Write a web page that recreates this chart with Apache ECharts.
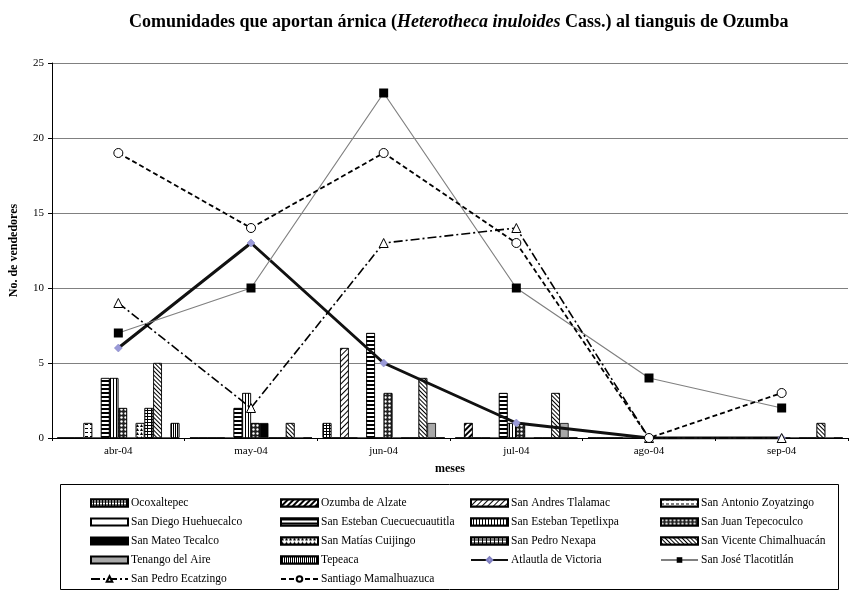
<!DOCTYPE html>
<html>
<head>
<meta charset="utf-8">
<script src="https://cdn.jsdelivr.net/npm/echarts@6/dist/echarts.min.js"></script>
<style>
  html, body { margin: 0; padding: 0; background: #fff; }
  #main { width: 855px; height: 593px; }
</style>
</head>
<body>
<div id="main"></div>
<script>
var myChart = echarts.init(document.getElementById('main'));

var months = ['abr-04', 'may-04', 'jun-04', 'jul-04', 'ago-04', 'sep-04'];
var yTicks = [0, 5, 10, 15, 20, 25];

// barras (No. de vendedores por mes)
var ocoxaltepec   = [0, 0, 1, 0, 0, 0];
var ozumba        = [0, 0, 0, 1, 0, 0];
var sanAndres     = [0, 0, 6, 0, 0, 0];
var sanAntonio    = [1, 0, 0, 0, 0, 0];
var sanDiego      = [0, 0, 0, 0, 0, 0];
var cuecue        = [4, 2, 7, 3, 0, 0];
var tepetlixpa    = [4, 3, 0, 1, 0, 0];
var sanJuan       = [2, 1, 3, 1, 0, 0];
var sanMateo      = [0, 1, 0, 0, 0, 0];
var sanMatias     = [1, 0, 0, 0, 0, 0];
var nexapa        = [2, 0, 0, 0, 0, 0];
var sanVicente    = [5, 1, 4, 3, 0, 1];
var tenango       = [0, 0, 1, 1, 0, 0];
var tepeaca       = [1, 0, 0, 0, 0, 0];

// lineas
var atlautla      = [6, 13, 5, 1, 0, 0];
var sanJose       = [7, 10, 23, 10, 4, 2];
var ecatzingo     = [9, 2, 13, 14, 0, 0];
var mamalhuazuca  = [19, 14, 19, 13, 0, 3];

var lineNames = ['Atlautla de Victoria', 'San José Tlacotitlán', 'San Pedro Ecatzingo', 'Santiago Mamalhuazuca'];

var serif = 'Liberation Serif';
var D45 = Math.PI / 4;

function bar(name, data, style) {
    return {
        name: name,
        type: 'bar',
        data: data,
        barGap: '0%',
        barCategoryGap: '8%',
        itemStyle: Object.assign({ color: '#fff', borderColor: '#000', borderWidth: 0.8 }, style)
    };
}
function stripes(gapY, rot, w) {
    return { symbol: 'rect', color: '#000', backgroundColor: '#fff', dashArrayX: [1, 0], dashArrayY: [w || 1, gapY], rotation: rot || 0 };
}

var series = [
    bar('Ocoxaltepec', ocoxaltepec, { decal: { symbol: 'rect', color: '#fff', backgroundColor: '#000', dashArrayX: [2, 1], dashArrayY: [2, 1] } }),
    bar('Ozumba de Alzate', ozumba, { decal: stripes(2, -D45, 2) }),
    bar('San Andres Tlalamac', sanAndres, { decal: stripes(3, -D45, 1) }),
    bar('San Antonio Zoyatzingo', sanAntonio, { decal: { symbol: 'rect', color: '#000', backgroundColor: '#fff', dashArrayX: [3, 2], dashArrayY: [1, 3] } }),
    bar('San Diego Huehuecalco', sanDiego, {}),
    bar('San Esteban Cuecuecuautitla', cuecue, { decal: stripes(1.5, 0, 1.5) }),
    bar('San Esteban Tepetlixpa', tepetlixpa, { decal: stripes(1.5, Math.PI / 2, 1) }),
    bar('San Juan Tepecoculco', sanJuan, { decal: { symbol: 'circle', symbolSize: 0.8, color: '#fff', backgroundColor: '#222', dashArrayX: [3, 0.5], dashArrayY: [3, 0.5] } }),
    bar('San Mateo Tecalco', sanMateo, { color: '#000' }),
    bar('San Matías Cuijingo', sanMatias, { decal: { symbol: 'triangle', color: '#000', backgroundColor: '#fff', dashArrayX: [3, 1], dashArrayY: [3, 1] } }),
    bar('San Pedro Nexapa', nexapa, { decal: { symbol: 'rect', color: '#fff', backgroundColor: '#000', dashArrayX: [3, 1], dashArrayY: [1.5, 1] } }),
    bar('San Vicente Chimalhuacán', sanVicente, { decal: stripes(2, D45, 1) }),
    bar('Tenango del Aire', tenango, { color: '#a8a8a8' }),
    bar('Tepeaca', tepeaca, { decal: stripes(1, Math.PI / 2, 1) }),
    {
        name: 'Atlautla de Victoria', type: 'line', data: atlautla, z: 5,
        symbol: 'diamond', symbolSize: 8,
        itemStyle: { color: '#9a9ad8', borderColor: '#8080c0', borderWidth: 0.5 },
        lineStyle: { color: '#111', width: 3 }
    },
    {
        name: 'San José Tlacotitlán', type: 'line', data: sanJose, z: 5,
        symbol: 'rect', symbolSize: 9,
        itemStyle: { color: '#000' },
        lineStyle: { color: '#808080', width: 1.2 }
    },
    {
        name: 'San Pedro Ecatzingo', type: 'line', data: ecatzingo, z: 5,
        symbol: 'triangle', symbolSize: 9,
        itemStyle: { color: '#fff', borderColor: '#000', borderWidth: 1 },
        lineStyle: { color: '#000', width: 1.6, type: [9, 3, 2, 3] }
    },
    {
        name: 'Santiago Mamalhuazuca', type: 'line', data: mamalhuazuca, z: 5,
        symbol: 'circle', symbolSize: 9,
        itemStyle: { color: '#fff', borderColor: '#000', borderWidth: 1 },
        lineStyle: { color: '#000', width: 1.8, type: [5, 3] }
    }
];

function legendCol(left, names) {
    return {
        orient: 'vertical', left: left, top: 496, height: 100, padding: 0,
        itemWidth: 37, itemHeight: 7, itemGap: 5,
        selectedMode: false,
        textStyle: { fontFamily: serif, fontSize: 11.5, color: '#000', lineHeight: 14, padding: [0, 0, 0, -2] },
        data: names.map(function (n) {
            return lineNames.indexOf(n) >= 0 ? { name: n } : { name: n, icon: 'rect' };
        })
    };
}

option = {
    backgroundColor: '#fff',
    animation: false,
    title: {
        left: 124, top: 8,
        text: '{b|Comunidades que aportan árnica (}{i|Heterotheca inuloides}{b| Cass.) al tianguis de Ozumba}',
        textStyle: {
            rich: {
                b: { fontFamily: serif, fontWeight: 'bold', fontSize: 18, color: '#000' },
                i: { fontFamily: serif, fontWeight: 'bold', fontStyle: 'italic', fontSize: 18, color: '#000' }
            }
        }
    },
    legend: [
        legendCol(90, ['Ocoxaltepec', 'San Diego Huehuecalco', 'San Mateo Tecalco', 'Tenango del Aire', 'San Pedro Ecatzingo']),
        legendCol(280, ['Ozumba de Alzate', 'San Esteban Cuecuecuautitla', 'San Matías Cuijingo', 'Tepeaca', 'Santiago Mamalhuazuca']),
        legendCol(470, ['San Andres Tlalamac', 'San Esteban Tepetlixpa', 'San Pedro Nexapa', 'Atlautla de Victoria']),
        legendCol(660, ['San Antonio Zoyatzingo', 'San Juan Tepecoculco', 'San Vicente Chimalhuacán', 'San José Tlacotitlán'])
    ],
    graphic: [{
        type: 'rect', silent: true,
        shape: { x: 60.5, y: 484.5, width: 778, height: 105 },
        style: { fill: 'none', stroke: '#000', lineWidth: 1 }
    }],
    grid: { left: 50, right: 7, top: 63, bottom: 155 },
    xAxis: {
        type: 'category', data: months,
        name: 'meses', nameLocation: 'middle', nameGap: 25,
        nameTextStyle: { fontFamily: serif, fontWeight: 'bold', fontSize: 12, color: '#000' },
        axisLine: { lineStyle: { color: '#000', width: 1 } },
        axisTick: { show: true, length: 3, lineStyle: { color: '#000' } },
        axisLabel: { fontFamily: serif, fontSize: 11, color: '#000', margin: 8 }
    },
    yAxis: {
        type: 'value', min: yTicks[0], max: yTicks[yTicks.length - 1], interval: 5,
        name: 'No. de vendedores', nameLocation: 'middle', nameGap: 32, nameRotate: 90,
        nameTextStyle: { fontFamily: serif, fontWeight: 'bold', fontSize: 12, color: '#000' },
        axisLine: { show: true, lineStyle: { color: '#000', width: 1 } },
        axisTick: { show: true, length: 4, lineStyle: { color: '#000' } },
        axisLabel: { fontFamily: serif, fontSize: 11, color: '#000', margin: 8 },
        splitLine: { lineStyle: { color: '#808080', width: 1 } }
    },
    series: series
};

myChart.setOption(option);
</script>
</body>
</html>
